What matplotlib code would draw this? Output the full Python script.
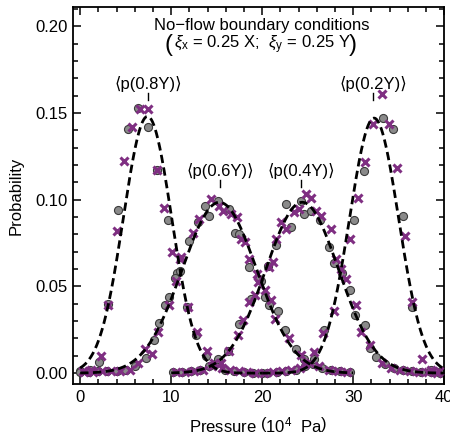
import numpy as np
import matplotlib
matplotlib.use("Agg")
import matplotlib.pyplot as plt

plt.rcParams['font.family'] = ['Liberation Sans', 'DejaVu Sans']
plt.rcParams['mathtext.fontset'] = 'custom'
plt.rcParams['mathtext.rm'] = 'Liberation Sans'
plt.rcParams['mathtext.it'] = 'Liberation Sans:italic'
plt.rcParams['mathtext.bf'] = 'Liberation Sans:bold'

# ---- data ----
# <p(0.8Y)>
g08_x = [0.0, 1.05, 2.1, 3.1, 4.2, 5.3, 6.4, 7.4, 8.4, 9.6, 10.6, 11.7, 12.7, 13.8, 14.8, 15.9, 16.9, 18.0, 19.0, 20.0]
g08_y = [0.001, 0.002, 0.0065, 0.040, 0.094, 0.141, 0.153, 0.142, 0.117, 0.088, 0.058, 0.038, 0.022, 0.010,
         0.005, 0.002, 0.001, 0.0005, 0.0003, 0.0002]
p08_x = [0.3, 1.2, 2.3, 3.1, 4.0, 4.85, 5.7, 6.6, 7.5, 8.4, 9.25, 10.1, 11.0, 11.9, 12.8, 13.9, 14.7, 15.6,
         16.5, 17.4, 18.3, 19.2]
p08_y = [0.001, 0.002, 0.010, 0.039, 0.082, 0.122, 0.142, 0.152, 0.152, 0.117, 0.095, 0.070, 0.066, 0.038,
         0.024, 0.013, 0.006, 0.003, 0.002, 0.001, 0.0005, 0.0003]

# <p(0.6Y)>
g06_x = [0.0, 1.0, 2.0, 3.0, 4.0, 5.0, 6.0, 7.2, 8.1, 8.7, 9.3, 9.8, 10.4, 11.0, 12.0, 13.0, 13.7, 14.2,
         15.2, 16.4, 17.0, 17.5, 18.5, 19.9, 20.3, 20.8, 21.7, 22.5, 23.7, 24.6, 25.6, 26.6, 27.6, 28.6, 29.6]
g06_y = [0.0005, 0.0005, 0.001, 0.001, 0.0015, 0.002, 0.004, 0.009, 0.019, 0.029, 0.039, 0.044, 0.055,
         0.059, 0.0764, 0.087, 0.0966, 0.0908, 0.099, 0.0947, 0.081, 0.080, 0.061, 0.0534, 0.044, 0.039,
         0.036, 0.0247, 0.014, 0.008, 0.005, 0.003, 0.002, 0.001, 0.0005]
p06_x = [0.4, 1.4, 2.4, 3.4, 4.4, 5.5, 6.4, 7.1, 7.85, 8.5, 9.8, 10.5, 11.1, 12.4, 13.1, 14.4, 15.3, 15.7,
         16.6, 17.2, 17.7, 18.1, 18.6, 19.4, 20.3, 21.0, 21.4, 23.0, 24.3, 25.3, 26.3, 27.3, 28.3, 29.3]
p06_y = [0.0005, 0.0005, 0.001, 0.001, 0.0015, 0.0017, 0.0056, 0.014, 0.011, 0.024, 0.039, 0.053, 0.067,
         0.081, 0.089, 0.1004, 0.0966, 0.0937, 0.0918, 0.0898, 0.0774, 0.0755, 0.066, 0.0573, 0.0477,
         0.042, 0.031, 0.020, 0.0103, 0.006, 0.004, 0.002, 0.001, 0.0005]

# <p(0.4Y)>
g04_x = [10.2, 11.2, 12.2, 13.2, 14.2, 15.2, 16.2, 17.5, 18.8, 19.7, 20.6, 21.5, 22.6, 23.2, 24.3, 24.6,
         25.4, 26.4, 27.4, 27.9, 28.8, 29.6, 30.2, 31.3, 31.9, 32.5, 33.5, 34.5, 35.5, 36.5, 37.5, 38.5, 39.5]
g04_y = [0.0005, 0.0005, 0.001, 0.002, 0.004, 0.008, 0.013, 0.0286, 0.043, 0.0544, 0.062, 0.0736, 0.0975,
         0.084, 0.0994, 0.0918, 0.0937, 0.088, 0.0726, 0.0634, 0.058, 0.0477, 0.0333, 0.028, 0.0147,
         0.0094, 0.005, 0.003, 0.002, 0.001, 0.0005, 0.0005, 0.0003]
p04_x = [10.5, 11.5, 12.5, 13.5, 14.5, 15.5, 16.4, 17.3, 17.9, 18.6, 19.2, 19.5, 20.8, 21.2, 21.5, 22.1,
         22.6, 23.5, 24.1, 24.8, 25.4, 25.9, 26.5, 27.6, 28.1, 28.7, 29.2, 30.3, 30.9, 31.8, 33.2, 34.2,
         35.2, 36.2, 37.2, 38.2, 39.2]
p04_y = [0.0005, 0.0005, 0.001, 0.002, 0.004, 0.006, 0.013, 0.0218, 0.0305, 0.041, 0.0448, 0.0525, 0.061,
         0.064, 0.0774, 0.087, 0.083, 0.0927, 0.0947, 0.1033, 0.101, 0.0937, 0.0908, 0.083, 0.066, 0.060,
         0.054, 0.039, 0.0237, 0.016, 0.0056, 0.003, 0.002, 0.001, 0.0008, 0.0005, 0.0003]

# <p(0.2Y)>
g02_x = [20.5, 21.6, 22.6, 23.7, 24.7, 25.7, 26.8, 30.1, 31.2, 33.3, 34.4, 35.5, 36.5, 38.6, 39.6]
g02_y = [0.0003, 0.0005, 0.001, 0.002, 0.004, 0.008, 0.0247, 0.0883, 0.1167, 0.1473, 0.1406, 0.0904,
         0.038, 0.002, 0.001]
p02_x = [20.2, 21.2, 22.2, 23.2, 24.2, 24.7, 25.7, 26.7, 27.9, 29.6, 30.5, 31.3, 32.2, 33.15, 33.9, 34.8,
         35.7, 36.5, 37.6, 38.5, 39.4]
p02_y = [0.0003, 0.0005, 0.001, 0.002, 0.003, 0.005, 0.012, 0.023, 0.036, 0.0774, 0.101, 0.1218, 0.1435,
         0.1607, 0.1435, 0.118, 0.0793, 0.041, 0.0084, 0.002, 0.001]

# gaussian fits (centre, width, height, range)
fit_names = ['0.8Y', '0.6Y', '0.4Y', '0.2Y']
fit_mu = [7.4, 15.3, 24.4, 32.3]
fit_sig = [2.65, 4.1, 4.0, 2.7]
fit_amp = [0.148, 0.0985, 0.0985, 0.147]
fit_lo = [0, 0, 10, 20]
fit_hi = [20, 30, 40, 40]
label_x = [7.45, 15.4, 24.3, 32.2]
label_y = [0.1667, 0.1167, 0.1167, 0.1667]

gray_sets = [(g08_x, g08_y), (g06_x, g06_y), (g04_x, g04_y), (g02_x, g02_y)]
purple_sets = [(p08_x, p08_y), (p06_x, p06_y), (p04_x, p04_y), (p02_x, p02_y)]

purple = '#7f2f82'

fig = plt.figure(figsize=(4.5, 4.43), dpi=100)
ax = fig.add_axes([0.162, 0.133, 0.825, 0.851])

for gx, gy in gray_sets:
    ax.plot(gx, gy, 'o', ms=5.8, mfc='#8a8a8a', mec='#3a3a3a', mew=0.8, ls='none', zorder=2)
for px, py in purple_sets:
    ax.plot(px, py, 'x', ms=5.8, mec=purple, mew=2.2, ls='none', zorder=3)

for i in range(4):
    xx = np.linspace(fit_lo[i], fit_hi[i], 300)
    yy = fit_amp[i] * np.exp(-(xx - fit_mu[i]) ** 2 / (2 * fit_sig[i] ** 2))
    ax.plot(xx, yy, color='black', lw=2.0, ls=(0, (3, 1.6)), zorder=4)
    ax.text(label_x[i], label_y[i], '\u27e8p(' + fit_names[i] + ')\u27e9', ha='center', va='center',
            fontsize=12)
    ax.plot([label_x[i], label_x[i]], [label_y[i] - 0.0052, label_y[i] - 0.0095], color='black', lw=1.0)

# title, second line with tall brackets
ax.text(20, 0.2005, 'No\u2212flow boundary conditions', ha='center', va='center', fontsize=12)
ax.text(20, 0.1895, r'$\xi_{\mathrm{x}}$ = 0.25 X;  $\xi_{\mathrm{y}}$ = 0.25 Y',
        ha='center', va='center', fontsize=12)
ax.text(9.75, 0.1893, '(', ha='center', va='center', fontsize=17, fontweight='light')
ax.text(30.0, 0.1893, ')', ha='center', va='center', fontsize=17, fontweight='light')

ax.set_xlim(-0.8, 40.0)
ax.set_ylim(-0.0063, 0.211)
ax.set_xticks([0, 10, 20, 30, 40])
ax.set_xticks(np.arange(0, 41, 2), minor=True)
ax.set_yticks([0.0, 0.05, 0.10, 0.15, 0.20])
ax.set_yticklabels(['0.00', '0.05', '0.10', '0.15', '0.20'])
ax.set_yticks(np.arange(0, 0.211, 0.01), minor=True)
ax.tick_params(which='both', direction='in', top=True, right=True, labelsize=12, width=1.1)
ax.tick_params(which='major', length=6, pad=4)
ax.tick_params(which='minor', length=3.5)
for s in ax.spines.values():
    s.set_linewidth(1.3)

ax.set_xlabel(r'Pressure $\left(10^4\ \ \mathrm{Pa}\right)$', fontsize=12, labelpad=8)
ax.set_ylabel('Probability', fontsize=12, labelpad=8)

fig.savefig('out.png', dpi=100)
